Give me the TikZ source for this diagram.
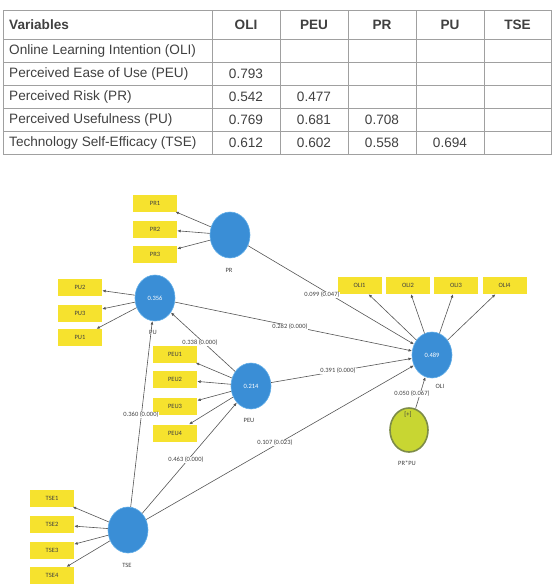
\documentclass[tikz,border=0pt]{standalone}
\usepackage{fontspec}
\setmainfont{Liberation Sans}
\newfontfamily\diagfont{Carlito}
\usetikzlibrary{shapes.geometric,arrows.meta}
\definecolor{lvblue}{HTML}{3A8ED6}
\definecolor{lvedge}{HTML}{62AEE8}
\definecolor{indyellow}{HTML}{F6E22E}
\definecolor{modfill}{HTML}{C8D632}
\definecolor{modedge}{HTML}{7D8C48}
\definecolor{gridgray}{HTML}{A0A0A0}
\definecolor{linegray}{HTML}{555555}
\definecolor{txtgray}{HTML}{404040}
\begin{document}
\begin{tikzpicture}[x=1pt,y=-1pt,
  tabtxt/.style={inner sep=0pt,font=\fontsize{13.6}{15}\selectfont,text=txtgray},
  tabhead/.style={tabtxt,font=\fontsize{13.6}{15}\selectfont\bfseries},
  lv/.style={ellipse,draw=lvedge,line width=0.6pt,fill=lvblue,minimum width=40pt,minimum height=46pt,inner sep=0pt,text=white,font=\diagfont\fontsize{6.5}{7}\selectfont},
  modlv/.style={ellipse,draw=modedge,line width=1.6pt,fill=modfill,minimum width=38pt,minimum height=44pt,inner sep=0pt},
  ind/.style={rectangle,fill=indyellow,minimum width=44pt,minimum height=17pt,inner sep=0pt,text=txtgray,font=\diagfont\fontsize{6.5}{7}\selectfont},
  lvlab/.style={inner sep=0pt,text=txtgray,font=\diagfont\fontsize{6.5}{7}\selectfont},
  plab/.style={fill=white,inner sep=0.6pt,text=txtgray,font=\diagfont\fontsize{6.5}{7}\selectfont},
  ar/.style={draw=linegray,line width=0.6pt,-{Latex[length=3.5pt,width=3pt]}}
]
\useasboundingbox (0,0) rectangle (554,587);
% ---------- table ----------
\draw[gridgray,line width=0.8pt] (3,10) rectangle (551,154.5);
\foreach \yy in {39.5,62.5,85.5,108.5,131.5} \draw[gridgray,line width=0.8pt] (3,\yy) -- (551,\yy);
\foreach \xx in {212,280,348,416,484} \draw[gridgray,line width=0.8pt] (\xx,10) -- (\xx,154.5);
\node[tabhead,anchor=west] (h0) at (9,24.75) {Variables};
\node[tabhead] (h1) at (246,24.75) {OLI};
\node[tabhead] (h2) at (314,24.75) {PEU};
\node[tabhead] (h3) at (382,24.75) {PR};
\node[tabhead] (h4) at (450,24.75) {PU};
\node[tabhead] (h5) at (517.5,24.75) {TSE};
\node[tabtxt,anchor=west] (r1) at (9,51) {Online Learning Intention (OLI)};
\node[tabtxt,anchor=west] (r2) at (9,74) {Perceived Ease of Use (PEU)};
\node[tabtxt,anchor=west] (r3) at (9,97) {Perceived Risk (PR)};
\node[tabtxt,anchor=west] (r4) at (9,120) {Perceived Usefulness (PU)};
\node[tabtxt,anchor=west] (r5) at (9,143) {Technology Self-Efficacy (TSE)};
\node[tabtxt] (c21) at (246,74) {0.793};
\node[tabtxt] (c31) at (246,97) {0.542};
\node[tabtxt] (c32) at (314,97) {0.477};
\node[tabtxt] (c41) at (246,120) {0.769};
\node[tabtxt] (c42) at (314,120) {0.681};
\node[tabtxt] (c43) at (382,120) {0.708};
\node[tabtxt] (c51) at (246,143) {0.612};
\node[tabtxt] (c52) at (314,143) {0.602};
\node[tabtxt] (c53) at (382,143) {0.558};
\node[tabtxt] (c54) at (450,143) {0.694};
% ---------- latent variables ----------
\node[lv] (PR) at (230,235) {};
\node[lv] (PU) at (155,298) {0.356};
\node[lv] (PEU) at (251,386) {0.214};
\node[lv] (OLI) at (432,355) {0.489};
\node[lv] (TSE) at (128,530) {};
\node[modlv] (PRPU) at (409,430) {};
\node[lvlab] (PRPUplus) at (408,415) {[+]};
\node[lvlab] (PRlab) at (229,270) {PR};
\node[lvlab] (PUlab) at (153,332) {PU};
\node[lvlab] (PEUlab) at (249,420) {PEU};
\node[lvlab] (TSElab) at (127,565) {TSE};
\node[lvlab] (PRPUlab) at (407,463) {PR*PU};
% ---------- indicators ----------
\node[ind] (PR1) at (155,203) {PR1};
\node[ind] (PR2) at (155,229) {PR2};
\node[ind] (PR3) at (155,254.5) {PR3};
\node[ind] (PU2) at (80,287.5) {PU2};
\node[ind] (PU3) at (80,313.5) {PU3};
\node[ind] (PU1) at (80,337.5) {PU1};
\node[ind] (PEU1) at (175,354) {PEU1};
\node[ind] (PEU2) at (175,379.5) {PEU2};
\node[ind] (PEU3) at (175,406.5) {PEU3};
\node[ind] (PEU4) at (175,433) {PEU4};
\node[ind] (OLI1) at (359.5,285.5) {OLI1};
\node[ind] (OLI2) at (408,285.5) {OLI2};
\node[ind] (OLI3) at (456,285.5) {OLI3};
\node[ind] (OLI4) at (504.5,285.5) {OLI4};
\node[ind] (TSE1) at (52,498) {TSE1};
\node[ind] (TSE2) at (52,524.5) {TSE2};
\node[ind] (TSE3) at (52,550) {TSE3};
\node[ind] (TSE4) at (52,575.5) {TSE4};
% ---------- measurement arrows ----------
\foreach \t in {PR1,PR2,PR3} \draw[ar] (PR) -- (\t);
\foreach \t in {PU1,PU2,PU3} \draw[ar] (PU) -- (\t);
\foreach \t in {PEU1,PEU2,PEU3,PEU4} \draw[ar] (PEU) -- (\t);
\foreach \t in {OLI1,OLI2,OLI3,OLI4} \draw[ar] (OLI) -- (\t);
\foreach \t in {TSE1,TSE2,TSE3,TSE4} \draw[ar] (TSE) -- (\t);
% ---------- structural arrows ----------
\draw[ar] (PR) -- (OLI);
\draw[ar] (PU) -- (OLI);
\draw[ar] (PEU) -- (OLI);
\draw[ar] (TSE) -- (OLI);
\draw[ar] (TSE) -- (PEU);
\draw[ar] (TSE) -- (PU);
\draw[ar] (PEU) -- (PU);
\draw[ar] (PRPU) -- (OLI);
% ---------- path labels ----------
\node[plab] (l1) at (322,295) {0.099 (0.047)};
\node[plab] (l2) at (290,327) {0.282 (0.000)};
\node[plab] (l3) at (338,371) {0.391 (0.000)};
\node[plab] (l4) at (275,443) {0.107 (0.023)};
\node[plab] (l5) at (186,460) {0.463 (0.000)};
\node[plab] (l6) at (141,415) {0.360 (0.000)};
\node[plab] (l7) at (200,343) {0.338 (0.000)};
\node[plab] (l8) at (412,394) {0.050 (0.067)};
\node[lvlab] (OLIlab) at (440,386) {OLI};
\end{tikzpicture}
\end{document}
